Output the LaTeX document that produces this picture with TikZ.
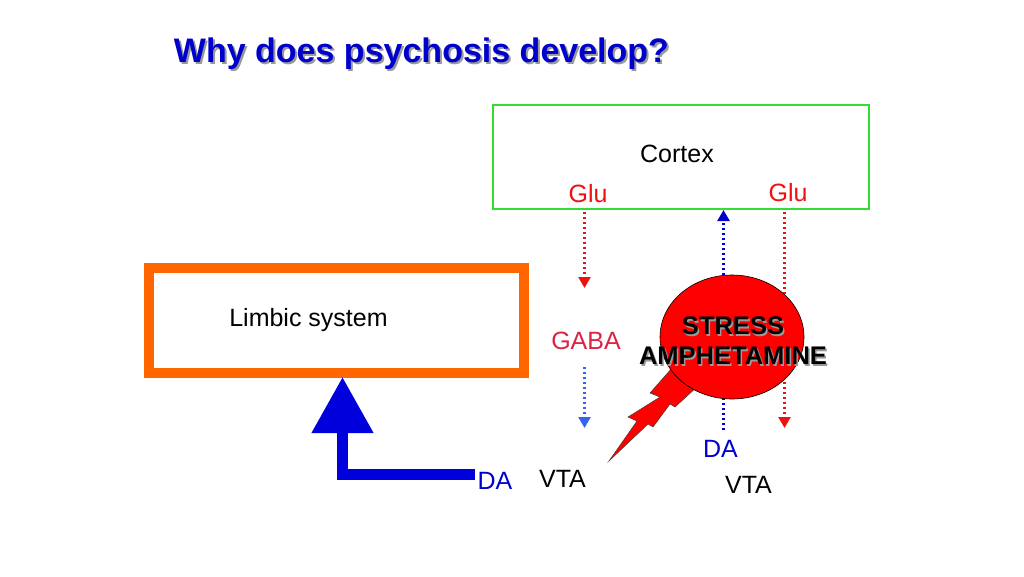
\documentclass[tikz,border=0pt]{standalone}
\usepackage{fontspec}
\setmainfont{Liberation Sans}
\usetikzlibrary{arrows.meta,shapes.geometric}
\definecolor{titleblue}{HTML}{0000CC}
\definecolor{cortexgreen}{HTML}{33DD33}
\definecolor{limbicorange}{HTML}{FF6600}
\definecolor{glured}{HTML}{EE1111}
\definecolor{gabared}{HTML}{DD2244}
\definecolor{lightblue}{HTML}{3366EE}
\definecolor{dablue}{HTML}{0000CC}
\definecolor{bigblue}{HTML}{0000DD}
\definecolor{stressred}{HTML}{FF0000}
\definecolor{shadowgray}{HTML}{999999}
\tikzset{
  lbl/.style={anchor=base, inner sep=0pt, font=\fontsize{25}{30}\selectfont},
  boldlbl/.style={anchor=base, inner sep=0pt, font=\fontsize{25.5}{30}\selectfont\bfseries},
  dotline/.style={line width=2.4pt, dash pattern=on 2.4pt off 2.6pt},
  tip/.style={-{Triangle[width=12pt,length=11pt]}},
}
\begin{document}
\begin{tikzpicture}[x=1pt,y=-1pt]
\useasboundingbox (0,0) rectangle (1024,576);
% title
\node[anchor=base, inner sep=0pt, font=\fontsize{34}{40}\selectfont\bfseries, text=shadowgray] (titleshadow) at (423.5,64.5) {Why does psychosis develop?};
\node[anchor=base, inner sep=0pt, font=\fontsize{34}{40}\selectfont\bfseries, text=titleblue] (title) at (421.5,62.5) {Why does psychosis develop?};
% cortex
\node[draw=cortexgreen, line width=2pt, minimum width=376pt, minimum height=104pt, inner sep=0pt] (cortex) at (681,157) {};
\node[lbl] (cortextxt) at (677,162) {Cortex};
\node[lbl, text=glured] (glu1) at (588,202) {Glu};
\node[lbl, text=glured] (glu2) at (788,201) {Glu};
% limbic
\node[draw=limbicorange, line width=10pt, minimum width=375pt, minimum height=105pt, inner sep=0pt] (limbic) at (336.5,320.5) {};
\node[lbl] (limbictxt) at (308.5,326) {Limbic system};
% labels
\node[lbl, text=gabared] (gaba) at (586,349) {GABA};
\node[lbl, text=dablue] (da2) at (720.5,457) {DA};
\node[lbl] (vta2) at (748.5,493) {VTA};
\node[lbl, text=dablue] (da1) at (495,489) {DA};
\node[lbl] (vta1) at (562.5,487) {VTA};
% coordinates
\coordinate (g1a) at (584.5,212);
\coordinate (g1b) at (584.5,288);
\coordinate (gba) at (584.5,367);
\coordinate (gbb) at (584.5,428);
\coordinate (daup0) at (723.5,430);
\coordinate (daup1) at (723.5,210);
\coordinate (g2a) at (784.5,212);
\coordinate (g2b) at (784.5,428);
\coordinate (bigstart) at (475,474.5);
\coordinate (bigend) at (342.5,377);
% dotted connectors
\draw[dotline, glured, tip] (g1a) -- (g1b);
\draw[dotline, lightblue, tip] (gba) -- (gbb);
\draw[dotline, dablue, tip] (daup0) -- (daup1);
\draw[dotline, glured, tip] (g2a) -- (g2b);
% big blue arrow
\draw[bigblue, line width=11pt, -{Triangle[width=59pt,length=56pt]}] (bigstart) -| (bigend);
% lightning bolt
\filldraw[fill=stressred, draw=black!75, line width=0.5pt, line join=miter]
  (672,368) -- (650,393) -- (660,397) -- (628,417) -- (637,421) -- (609,461)
  -- (648,424) -- (653,427) -- (670,404) -- (675,407) -- (698,386) -- cycle;
% stress ellipse
\node[ellipse, draw=black, line width=0.6pt, fill=stressred, minimum width=144pt, minimum height=124pt, inner sep=0pt] (stress) at (732,337) {};
\node[boldlbl, text=shadowgray] at (734.5,336) {STRESS};
\node[boldlbl] (stresstxt) at (733,334) {STRESS};
\node[boldlbl, text=shadowgray] at (734.5,366) {AMPHETAMINE};
\node[boldlbl] (amphtxt) at (733,364) {AMPHETAMINE};
\end{tikzpicture}
\end{document}
